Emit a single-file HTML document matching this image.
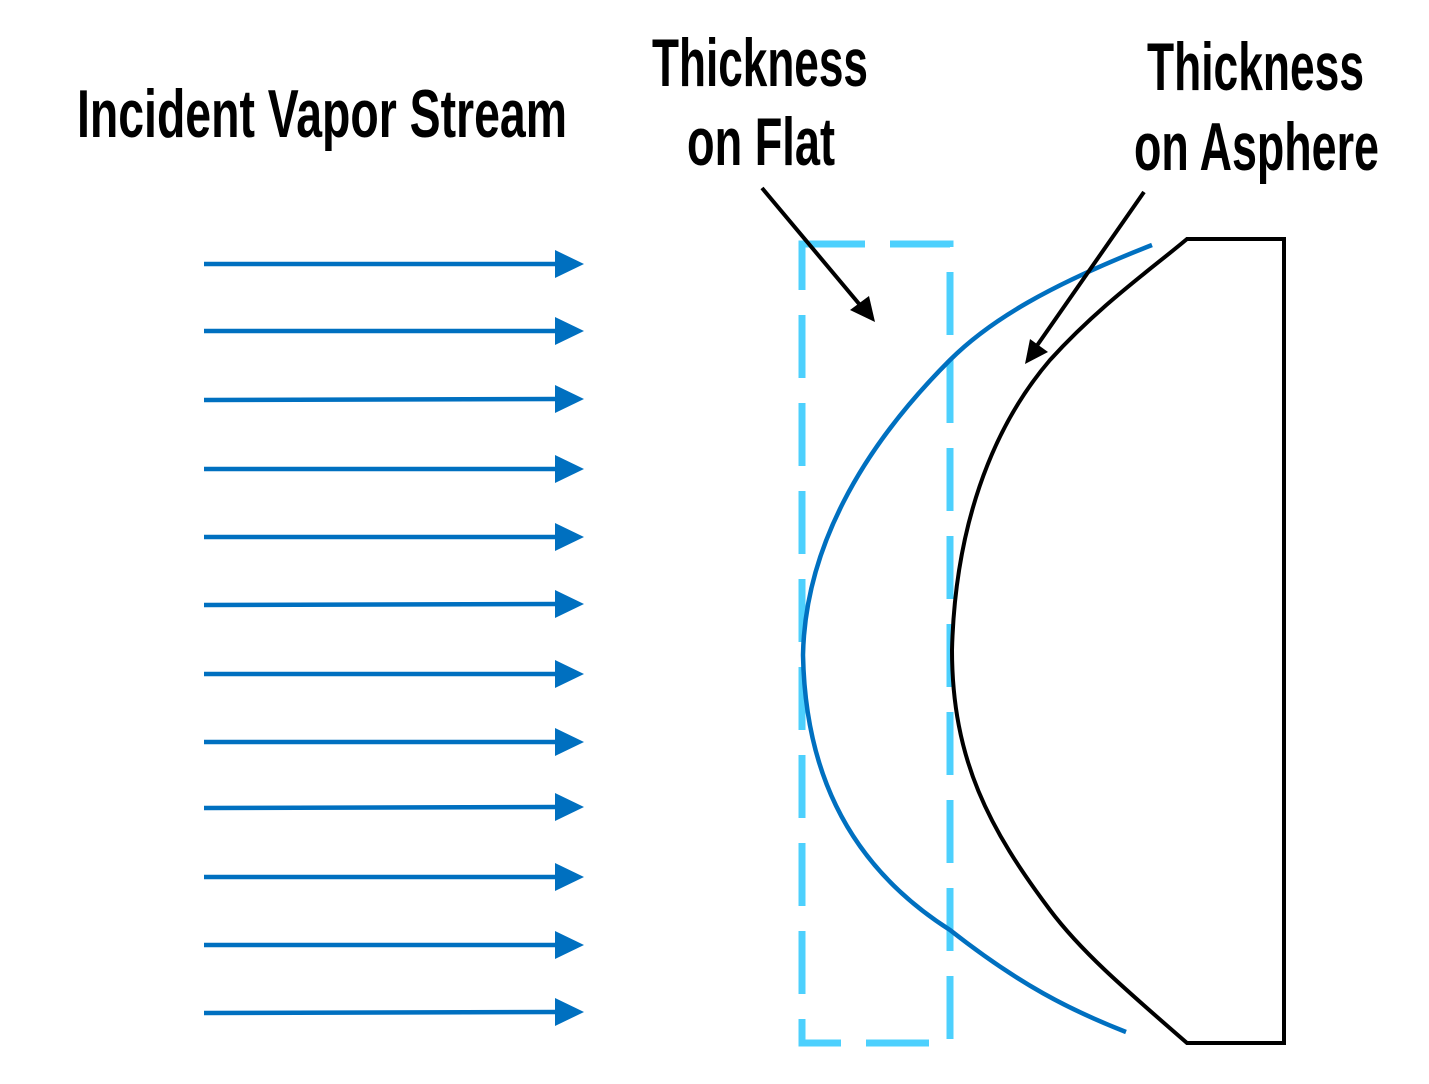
<!DOCTYPE html>
<html><head><meta charset="utf-8"><style>html,body{margin:0;padding:0;background:#fff}svg{display:block}</style></head>
<body>
<svg width="1429" height="1084" viewBox="0 0 1429 1084" xmlns="http://www.w3.org/2000/svg">
<g font-family="'Liberation Sans Narrow','Liberation Sans',sans-serif" font-size="68" font-weight="bold" fill="#000">
<text x="77" y="137" textLength="490" lengthAdjust="spacingAndGlyphs">Incident Vapor Stream</text>
<text x="652" y="86" textLength="216" lengthAdjust="spacingAndGlyphs">Thickness</text>
<text x="687" y="165" textLength="148" lengthAdjust="spacingAndGlyphs">on Flat</text>
<text x="1147" y="90" textLength="217" lengthAdjust="spacingAndGlyphs">Thickness</text>
<text x="1134" y="170" textLength="245" lengthAdjust="spacingAndGlyphs">on Asphere</text>
</g>
<g stroke="#0070c0" stroke-width="4.5">
<line x1="204" y1="264" x2="557" y2="264"/><line x1="204" y1="331" x2="557" y2="331"/>
<line x1="204" y1="400" x2="557" y2="399"/><line x1="204" y1="469" x2="557" y2="469"/>
<line x1="204" y1="537" x2="557" y2="537"/><line x1="204" y1="605" x2="557" y2="604"/>
<line x1="204" y1="674" x2="557" y2="674"/><line x1="204" y1="742" x2="557" y2="742"/>
<line x1="204" y1="808" x2="557" y2="807"/><line x1="204" y1="877" x2="557" y2="877"/>
<line x1="204" y1="945" x2="557" y2="945"/><line x1="204" y1="1013" x2="557" y2="1012"/>
</g>
<g fill="#0070c0">
<path d="M555,250 L584,264 L555,278z"/><path d="M555,317 L584,331 L555,345z"/>
<path d="M555,385 L584,399 L555,413z"/><path d="M555,455 L584,469 L555,483z"/>
<path d="M555,523 L584,537 L555,551z"/><path d="M555,590 L584,604 L555,618z"/>
<path d="M555,660 L584,674 L555,688z"/><path d="M555,728 L584,742 L555,756z"/>
<path d="M555,793 L584,807 L555,821z"/><path d="M555,863 L584,877 L555,891z"/>
<path d="M555,931 L584,945 L555,959z"/><path d="M555,998 L584,1012 L555,1026z"/>
</g>
<rect x="802" y="244" width="148" height="799" fill="none" stroke="#4dd0fd" stroke-width="7" stroke-dasharray="63 25"/>
<path d="M1152,245 C1050,285 990,320 950,360 C860,450 805,550 803,655 C805,760 840,860 950,930 C1020,985 1070,1010 1126,1032" fill="none" stroke="#0070c0" stroke-width="4.5"/>
<path d="M1187,239 L1284,239 L1284,1043 L1187,1043 C1120,985 1080,950 1050,910 C990,830 952,760 952,650 C955,530 990,430 1050,360 C1100,305 1150,270 1187,239z" fill="none" stroke="#000" stroke-width="4"/>
<g stroke="#000" stroke-width="4" fill="#000">
<line x1="762" y1="188" x2="860" y2="305"/>
<path d="M850,310 L875,322 L869,296z" stroke="none"/>
<line x1="1144" y1="192" x2="1036" y2="347"/>
<path d="M1025,364 L1030,339 L1048,352z" stroke="none"/>
</g>
</svg>
</body></html>
